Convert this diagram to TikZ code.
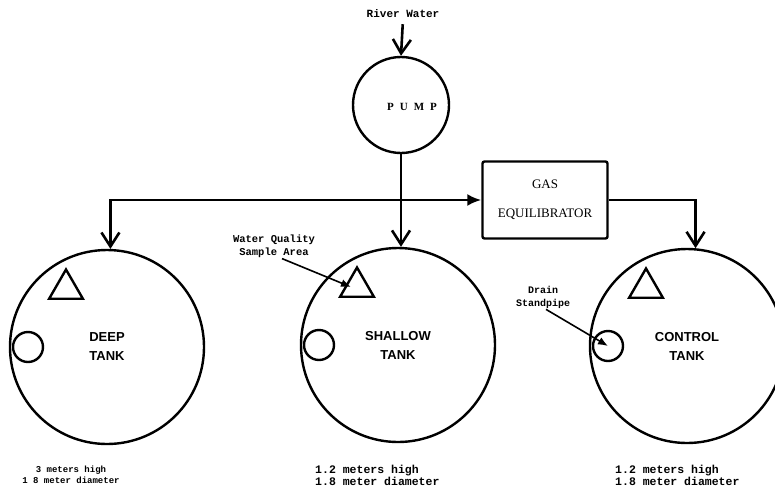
\documentclass[tikz,border=0pt]{standalone}
\usepackage{fontspec}
\setmainfont{Liberation Serif}
\setsansfont{Liberation Sans}
\setmonofont{Liberation Mono}
\usetikzlibrary{arrows.meta,shapes.geometric}

\begin{document}
\begin{tikzpicture}[x=1pt,y=-1pt,
    tank/.style={draw,circle,line width=2.4pt,minimum size=194pt,inner sep=0pt,align=center,
      font=\fontsize{13}{19}\selectfont\sffamily\bfseries},
    sample/.style={draw,regular polygon,regular polygon sides=3,minimum size=39pt,inner sep=0pt,line width=2.4pt},
    standpipe/.style={draw,circle,minimum size=30pt,inner sep=0pt,line width=2.4pt},
    flow/.style={line width=2.6pt,-{Straight Barb[length=14pt,width=18pt]}},
    feed/.style={line width=2.6pt,-{Latex[length=14pt,width=12pt]}},
    leader/.style={line width=1.6pt,-{Latex[length=10pt,width=8pt]}},
    note/.style={inner sep=1pt,align=center,font=\fontsize{11}{13}\selectfont\ttfamily\bfseries},
    dims/.style={inner sep=0pt,align=left,font=\fontsize{11.5}{10.5}\selectfont\ttfamily\bfseries}]
  \useasboundingbox (0,0) rectangle (775,490);

  % supply and pump
  \node[note] (river) at (403,14) {River Water};
  \node[draw,circle,minimum size=96pt,line width=2.4pt] (pump) at (401,105) {};
  \node[font=\fontsize{11}{11}\selectfont\bfseries] (pumptext) at (412,107)
    {P\hspace{6pt}U\hspace{6pt}M\hspace{6pt}P};

  \node[draw,rectangle,rounded corners=2pt,line width=2.4pt,minimum width=125pt,minimum height=77pt,
    align=center,font=\fontsize{13}{29}\selectfont] (gas) at (545,200) {GAS\\EQUILIBRATOR};

  % tanks
  \node[tank] (deep) at (107,347) {DEEP\\TANK};
  \node[tank] (shallow) at (398,345) {SHALLOW\\TANK};
  \node[tank] (ctrl) at (687,346) {CONTROL\\TANK};
  \foreach \t in {deep,shallow,ctrl}{
    \node[sample] (tri-\t) at ([shift={(-41,-58)}]\t.center) {};
    \node[standpipe] (pipe-\t) at ([shift={(-79,0)}]\t.center) {};
  }

  \node[dims,align=center,font=\fontsize{9}{10.5}\selectfont\ttfamily\bfseries] (dim-deep) at (71,475)
    {3 meters high\\1 8 meter diameter};
  \node[dims,anchor=west] (dim-shallow) at (315,475) {1.2 meters high\\1.8 meter diameter};
  \node[dims,anchor=west] (dim-ctrl) at (615,475) {1.2 meters high\\1.8 meter diameter};

  % labels with pointers
  \node[note,font=\fontsize{10.5}{13}\selectfont\ttfamily\bfseries] (quality) at (274,246)
    {Water Quality\\Sample Area};
  \node[note,font=\fontsize{10}{13}\selectfont\ttfamily\bfseries] (drain) at (543,297)
    {Drain\\Standpipe};
  \draw[leader] ([xshift=8pt]quality.south) -- ([xshift=-6pt]tri-shallow.center);
  \draw[leader] ([xshift=3pt]drain.south) -- (pipe-ctrl.center);

  % piping
  \coordinate (split) at (pump.south |- gas.west);
  \draw[flow,shorten <=5pt] (river.south) -- (pump.north);
  \draw[flow] (pump.south) -- (pump.south |- shallow.north);
  \draw[flow] (split) -| (deep.88);
  \draw[feed] (split) -- (gas.west);
  \draw[flow] (gas.east) -| (ctrl.85);
\end{tikzpicture}
\end{document}
